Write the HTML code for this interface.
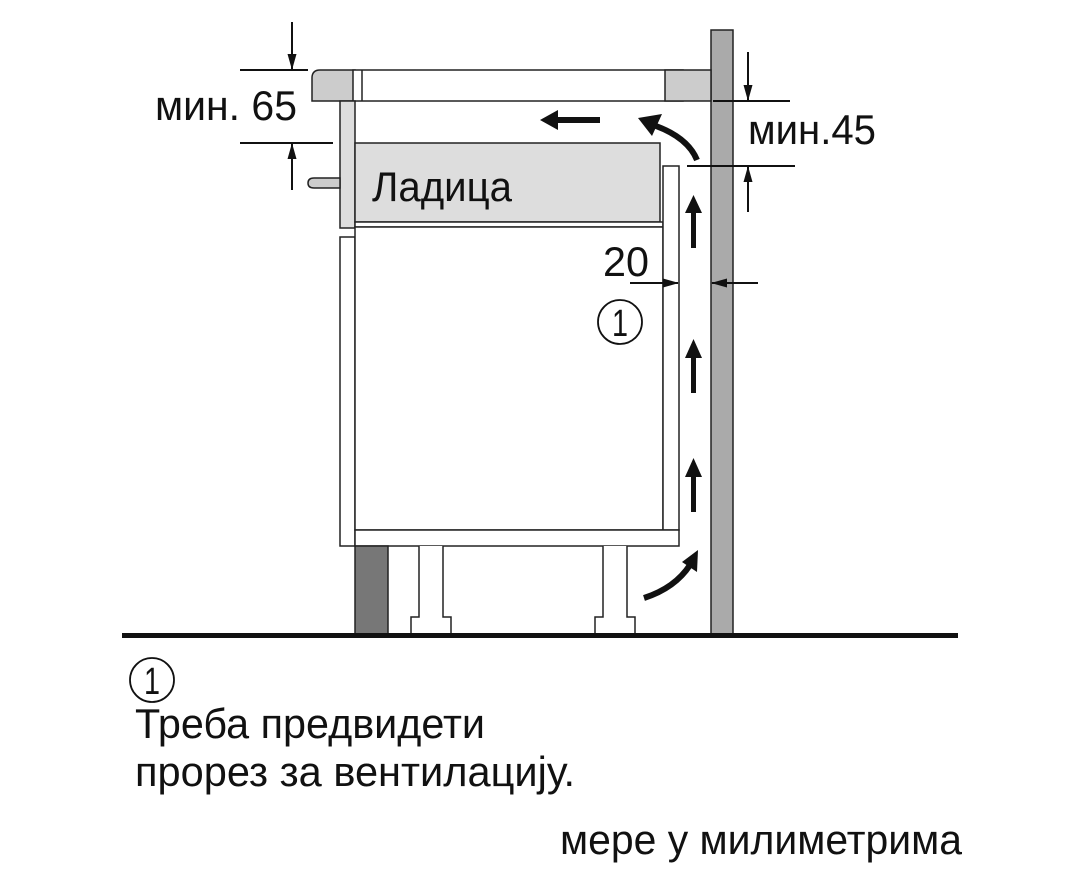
<!DOCTYPE html>
<html><head><meta charset="utf-8"><style>
html,body{margin:0;padding:0;background:#fff}
svg{display:block}
text{font-family:"Liberation Sans Narrow","Liberation Sans",sans-serif;fill:#111}
</style></head><body>
<svg width="1080" height="872" viewBox="0 0 1080 872" xmlns="http://www.w3.org/2000/svg">
<defs>
<marker id="ah" markerWidth="16" markerHeight="12" refX="15" refY="6" orient="auto" markerUnits="userSpaceOnUse">
<path d="M0,1.5 L16,6 L0,10.5 z" fill="#111"/></marker>
</defs>
<g stroke="#222" stroke-width="1.5">
<rect x="711" y="30" width="22" height="605" fill="#aaa"/>
<path d="M312,101 L312,78 Q312,70 320,70 L355,70 L355,101 z" fill="#ccc"/>
<rect x="353" y="70" width="330" height="31" fill="#fff"/>
<line x1="362" y1="70" x2="362" y2="101"/>
<rect x="665" y="70" width="46" height="31" fill="#ccc"/>
<rect x="340" y="101" width="15" height="127" fill="#ddd"/>
<path d="M340,178 L314,178 Q308,178 308,183 Q308,188 314,188 L340,188 z" fill="#ccc"/>
<rect x="355" y="143" width="305" height="79" fill="#ddd"/>
<rect x="355" y="222" width="308" height="5" fill="#fff"/>
<rect x="340" y="237" width="15" height="309" fill="#fff"/>
<rect x="355" y="227" width="308" height="303" fill="#fff"/>
<rect x="663" y="166" width="16" height="364" fill="#fff"/>
<rect x="355" y="530" width="324" height="16" fill="#fff"/>
<rect x="355" y="546" width="33" height="88" fill="#777"/>
<path d="M419,546 L419,617 L411,617 L411,634 L451,634 L451,617 L443,617 L443,546" fill="#fff"/>
<path d="M603,546 L603,617 L595,617 L595,634 L635,634 L635,617 L627,617 L627,546" fill="#fff"/>
</g>
<rect x="122" y="633" width="836" height="5" fill="#111"/>
<g stroke="#111" stroke-width="2" fill="none">
<line x1="240" y1="70" x2="308" y2="70"/>
<line x1="240" y1="143" x2="333" y2="143"/>
<line x1="292" y1="22" x2="292" y2="69" marker-end="url(#ah)"/>
<line x1="292" y1="190" x2="292" y2="144" marker-end="url(#ah)"/>
<line x1="713" y1="101" x2="790" y2="101"/>
<line x1="687" y1="166" x2="795" y2="166"/>
<line x1="748" y1="52" x2="748" y2="100" marker-end="url(#ah)"/>
<line x1="748" y1="212" x2="748" y2="167" marker-end="url(#ah)"/>
<line x1="630" y1="283" x2="678" y2="283" marker-end="url(#ah)"/>
<line x1="758" y1="283" x2="712" y2="283" marker-end="url(#ah)"/>
</g>
<g fill="#111">
<rect x="691" y="210" width="5" height="38"/><path d="M685,213 L693.5,195 L702,213 z"/>
<rect x="691" y="355" width="5" height="38"/><path d="M685,358 L693.5,339 L702,358 z"/>
<rect x="691" y="474" width="5" height="38"/><path d="M685,477 L693.5,458 L702,477 z"/>
<rect x="556" y="117" width="44" height="6"/><path d="M558,110 L540,120 L558,130 z"/>
</g>
<g fill="none" stroke="#111" stroke-width="6">
<path d="M697,160 Q688,138 656,126"/>
<path d="M644,598 Q675,588 690,565"/>
</g>
<g fill="#111">
<path d="M638,118 L662,114 L652,136 z"/>
<path d="M698,550 L697,572 L682,562 z"/>
</g>
<circle cx="620" cy="322" r="22" fill="none" stroke="#111" stroke-width="1.8"/>
<text x="620" y="336" font-size="38" text-anchor="middle" textLength="16" lengthAdjust="spacingAndGlyphs">1</text>
<circle cx="152" cy="680" r="22" fill="none" stroke="#111" stroke-width="1.8"/>
<text x="152" y="694" font-size="38" text-anchor="middle" textLength="16" lengthAdjust="spacingAndGlyphs">1</text>
<text x="155" y="120" font-size="42" textLength="142" lengthAdjust="spacingAndGlyphs">мин. 65</text>
<text x="748" y="144" font-size="42" textLength="128" lengthAdjust="spacingAndGlyphs">мин.45</text>
<text x="372" y="201" font-size="42" textLength="140" lengthAdjust="spacingAndGlyphs">Ладица</text>
<text x="603" y="276" font-size="42" textLength="46" lengthAdjust="spacingAndGlyphs">20</text>
<text x="135" y="738" font-size="42" textLength="350" lengthAdjust="spacingAndGlyphs">Треба предвидети</text>
<text x="135" y="786" font-size="42" textLength="440" lengthAdjust="spacingAndGlyphs">прорез за вентилацију.</text>
<text x="560" y="854" font-size="42" textLength="402" lengthAdjust="spacingAndGlyphs">мере у милиметрима</text>
</svg>
</body></html>
